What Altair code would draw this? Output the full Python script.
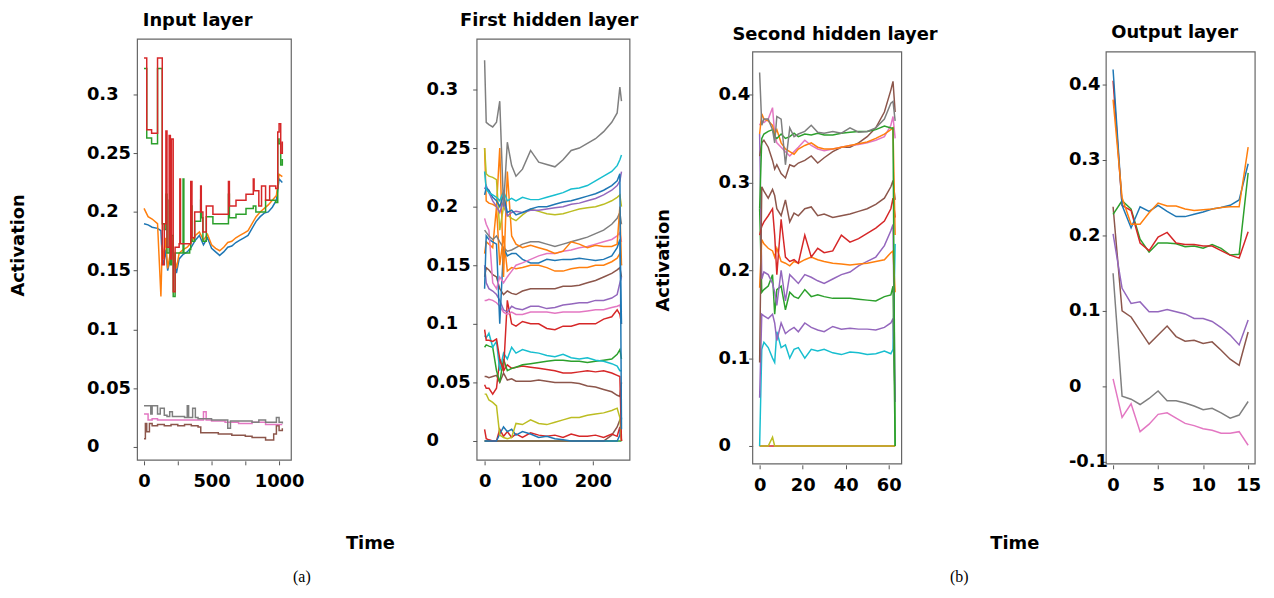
import altair as alt
import pandas as pd

FONT = "DejaVu Sans"
C = {"blue": "#1f77b4", "orange": "#ff7f0e", "green": "#2ca02c", "red": "#d62728",
     "purple": "#9467bd", "brown": "#8c564b", "pink": "#e377c2", "gray": "#7f7f7f",
     "olive": "#bcbd22", "cyan": "#17becf"}

# ---------------- Panel 1: Input layer ----------------
IN_BLUE_X = [0, 30, 60, 100, 125, 135, 145, 160, 175, 190, 205, 220, 240, 260, 290, 320, 350, 380, 410, 440,
             470, 500, 530, 560, 590, 620, 650, 680, 710, 740, 770, 800, 830, 860, 890, 920, 950, 980, 1000, 1024]
IN_BLUE_Y = [0.190, 0.189, 0.187, 0.186, 0.184, 0.160, 0.155, 0.168, 0.150, 0.158, 0.172, 0.160, 0.148, 0.160,
             0.164, 0.166, 0.170, 0.176, 0.180, 0.172, 0.178, 0.169, 0.166, 0.163, 0.166, 0.170, 0.171, 0.174,
             0.176, 0.178, 0.180, 0.186, 0.192, 0.196, 0.199, 0.200, 0.204, 0.210, 0.228, 0.225]
IN_ORANGE_Y = [0.203, 0.196, 0.194, 0.190, 0.128, 0.172, 0.160, 0.178, 0.152, 0.162, 0.176, 0.165, 0.152, 0.165,
               0.168, 0.170, 0.174, 0.180, 0.183, 0.176, 0.181, 0.172, 0.169, 0.167, 0.170, 0.174, 0.175, 0.178,
               0.180, 0.182, 0.184, 0.190, 0.196, 0.200, 0.203, 0.206, 0.210, 0.214, 0.232, 0.230]
IN_GREEN_X = [0, 20, 56, 100, 135, 150, 162, 170, 186, 195, 203, 216, 230, 260, 289, 295, 338, 346, 355, 375,
              419, 424, 436, 461, 510, 608, 625, 632, 681, 755, 809, 828, 900, 975, 990, 1000, 1012, 1024]
IN_GREEN_Y = [0.322, 0.263, 0.258, 0.322, 0.190, 0.185, 0.215, 0.165, 0.210, 0.155, 0.180, 0.128, 0.165, 0.165,
              0.228, 0.165, 0.168, 0.205, 0.175, 0.192, 0.210, 0.195, 0.175, 0.196, 0.190, 0.190, 0.215, 0.195,
              0.198, 0.203, 0.205, 0.200, 0.210, 0.208, 0.262, 0.258, 0.240, 0.245]
IN_RED_X = [0, 20, 56, 100, 135, 150, 162, 170, 186, 195, 203, 216, 230, 260, 265, 270, 338, 346, 355, 375,
            419, 424, 436, 461, 510, 608, 625, 632, 681, 755, 809, 815, 828, 850, 870, 900, 930, 975, 990, 1000,
            1012, 1024]
IN_RED_Y = [0.331, 0.270, 0.267, 0.331, 0.155, 0.190, 0.269, 0.170, 0.265, 0.160, 0.262, 0.132, 0.170, 0.173,
            0.228, 0.173, 0.173, 0.226, 0.178, 0.200, 0.222, 0.200, 0.183, 0.205, 0.198, 0.198, 0.226, 0.205,
            0.210, 0.215, 0.228, 0.218, 0.218, 0.205, 0.222, 0.210, 0.222, 0.220, 0.268, 0.275, 0.250, 0.260]
IN_BROWN_X = [0, 10, 20, 40, 60, 100, 150, 200, 250, 300, 350, 400, 420, 500, 550, 600, 650, 700, 750, 800,
              850, 900, 930, 960, 980, 1000, 1024]
IN_BROWN_Y = [0.007, 0.020, 0.013, 0.020, 0.018, 0.019, 0.018, 0.019, 0.018, 0.019, 0.018, 0.017, 0.012, 0.012,
              0.011, 0.011, 0.010, 0.010, 0.009, 0.008, 0.008, 0.006, 0.006, 0.011, 0.018, 0.014, 0.016]
IN_PINK_X = [0, 30, 60, 100, 200, 300, 400, 440, 460, 500, 600, 700, 800, 900, 1000, 1024]
IN_PINK_Y = [0.028, 0.023, 0.024, 0.023, 0.023, 0.023, 0.023, 0.030, 0.023, 0.022, 0.021, 0.020, 0.021, 0.019,
             0.019, 0.019]
IN_GRAY_X = [0, 50, 60, 100, 120, 150, 170, 190, 210, 260, 300, 320, 330, 360, 380, 400, 430, 500, 600, 620,
             640, 700, 800, 850, 900, 960, 980, 1000, 1024]
IN_GRAY_Y = [0.035, 0.028, 0.035, 0.028, 0.033, 0.027, 0.026, 0.030, 0.026, 0.026, 0.025, 0.035, 0.025, 0.033,
             0.025, 0.024, 0.024, 0.023, 0.023, 0.016, 0.022, 0.022, 0.021, 0.023, 0.021, 0.021, 0.025, 0.021,
             0.020]

# ---------------- Panel 2: First hidden layer ----------------
H1_X = [0, 3, 8, 15, 22, 28, 35, 42, 50, 58, 70, 85, 100, 115, 130, 145, 160, 175, 190, 205, 220, 235, 245, 250, 253]
H1_GRAY_TOP = [0.325, 0.272, 0.270, 0.268, 0.272, 0.290, 0.200, 0.255, 0.235, 0.226, 0.232, 0.248, 0.238, 0.236,
               0.234, 0.240, 0.248, 0.250, 0.254, 0.258, 0.264, 0.272, 0.280, 0.302, 0.290]
H1_CYAN_TOP = [0.230, 0.215, 0.212, 0.210, 0.208, 0.205, 0.213, 0.205, 0.207, 0.205, 0.208, 0.206, 0.206, 0.208,
               0.210, 0.212, 0.215, 0.216, 0.218, 0.222, 0.226, 0.230, 0.235, 0.240, 0.244]
H1_BLUE_TOP = [0.210, 0.216, 0.214, 0.208, 0.205, 0.200, 0.210, 0.195, 0.197, 0.193, 0.195, 0.198, 0.200, 0.200,
               0.202, 0.204, 0.205, 0.207, 0.209, 0.211, 0.214, 0.218, 0.222, 0.228, 0.010]
H1_PURPLE_TOP = [0.215, 0.218, 0.212, 0.205, 0.200, 0.195, 0.205, 0.192, 0.195, 0.196, 0.195, 0.197, 0.197, 0.198,
                 0.199, 0.200, 0.202, 0.203, 0.205, 0.207, 0.210, 0.214, 0.218, 0.222, 0.230]
H1_OLIVE_TOP = [0.250, 0.228, 0.226, 0.225, 0.223, 0.180, 0.200, 0.193, 0.190, 0.188, 0.193, 0.198, 0.196, 0.194,
                0.193, 0.194, 0.196, 0.198, 0.199, 0.200, 0.202, 0.205, 0.208, 0.210, 0.200]
H1_ORANGE_TOP = [0.250, 0.205, 0.203, 0.202, 0.200, 0.250, 0.140, 0.230, 0.175, 0.168, 0.165, 0.167, 0.165, 0.163,
                 0.160, 0.162, 0.170, 0.168, 0.165, 0.167, 0.166, 0.166, 0.168, 0.200, 0.150]
H1_GRAY_LOW = [0.180, 0.178, 0.175, 0.172, 0.175, 0.170, 0.165, 0.162, 0.163, 0.165, 0.168, 0.170, 0.170, 0.168,
               0.166, 0.168, 0.170, 0.172, 0.174, 0.177, 0.180, 0.185, 0.190, 0.195, 0.185]
H1_PINK_TOP = [0.190, 0.185, 0.180, 0.135, 0.130, 0.140, 0.135, 0.140, 0.145, 0.150, 0.152, 0.155, 0.158, 0.160,
               0.160, 0.162, 0.163, 0.165, 0.166, 0.168, 0.170, 0.172, 0.175, 0.178, 0.170]
H1_BLUE_MID = [0.130, 0.175, 0.172, 0.170, 0.168, 0.100, 0.165, 0.158, 0.160, 0.160, 0.155, 0.152, 0.152, 0.155,
               0.154, 0.155, 0.155, 0.156, 0.155, 0.154, 0.155, 0.158, 0.165, 0.172, 0.100]
H1_ORANGE_LOW = [0.160, 0.170, 0.168, 0.165, 0.200, 0.150, 0.175, 0.145, 0.148, 0.147, 0.148, 0.150, 0.150, 0.148,
                 0.145, 0.145, 0.147, 0.148, 0.148, 0.150, 0.150, 0.153, 0.156, 0.160, 0.150]
H1_BROWN_TOP = [0.140, 0.148, 0.146, 0.142, 0.140, 0.130, 0.125, 0.128, 0.126, 0.125, 0.128, 0.130, 0.130, 0.130,
                0.130, 0.132, 0.132, 0.133, 0.135, 0.137, 0.140, 0.143, 0.146, 0.148, 0.140]
H1_PURPLE_LOW = [0.150, 0.135, 0.130, 0.128, 0.125, 0.120, 0.112, 0.110, 0.115, 0.113, 0.112, 0.115, 0.115, 0.113,
                 0.114, 0.116, 0.117, 0.118, 0.118, 0.120, 0.120, 0.122, 0.125, 0.135, 0.140]
H1_PINK_LOW = [0.120, 0.120, 0.121, 0.120, 0.118, 0.115, 0.110, 0.108, 0.110, 0.108, 0.108, 0.110, 0.110, 0.110,
               0.109, 0.110, 0.110, 0.110, 0.111, 0.112, 0.112, 0.114, 0.115, 0.116, 0.110]
H1_RED_MID = [0.095, 0.086, 0.086, 0.085, 0.087, 0.070, 0.060, 0.120, 0.100, 0.098, 0.102, 0.100, 0.100, 0.096,
              0.095, 0.098, 0.098, 0.100, 0.100, 0.100, 0.104, 0.106, 0.112, 0.108, 0.100]
H1_CYAN_LOW = [0.090, 0.088, 0.092, 0.080, 0.085, 0.060, 0.075, 0.070, 0.080, 0.075, 0.078, 0.076, 0.075, 0.073,
               0.072, 0.074, 0.071, 0.070, 0.071, 0.069, 0.068, 0.066, 0.064, 0.060, 0.060]
H1_GREEN_MID = [0.080, 0.082, 0.081, 0.080, 0.060, 0.050, 0.070, 0.060, 0.062, 0.063, 0.065, 0.066, 0.067, 0.068,
                0.069, 0.069, 0.068, 0.068, 0.067, 0.068, 0.069, 0.070, 0.074, 0.078, 0.070]
H1_RED_LOW = [0.048, 0.045, 0.045, 0.040, 0.045, 0.070, 0.060, 0.065, 0.062, 0.063, 0.064, 0.063, 0.062, 0.061,
              0.060, 0.058, 0.058, 0.059, 0.060, 0.059, 0.060, 0.058, 0.056, 0.055, 0.000]
H1_BROWN_LOW = [0.055, 0.055, 0.054, 0.055, 0.056, 0.050, 0.058, 0.052, 0.053, 0.051, 0.051, 0.051, 0.052, 0.051,
                0.050, 0.050, 0.050, 0.049, 0.047, 0.046, 0.044, 0.042, 0.039, 0.038, 0.050]
H1_OLIVE_LOW = [0.040, 0.040, 0.035, 0.033, 0.030, 0.005, 0.003, 0.002, 0.003, 0.015, 0.014, 0.018, 0.015, 0.014,
                0.016, 0.018, 0.020, 0.020, 0.022, 0.023, 0.024, 0.026, 0.028, 0.020, 0.000]
H1_RED_BOTTOM = [0.010, 0.002, 0.001, 0.000, 0.000, 0.010, 0.004, 0.008, 0.003, 0.006, 0.003, 0.007, 0.005, 0.004,
                 0.005, 0.003, 0.006, 0.004, 0.004, 0.005, 0.003, 0.006, 0.004, 0.012, 0.000]
H1_BLUE_BOTTOM = [0.000, 0.000, 0.000, 0.000, 0.000, 0.006, 0.012, 0.008, 0.010, 0.005, 0.008, 0.006, 0.003, 0.004,
                  0.002, 0.001, 0.000, 0.000, 0.000, 0.000, 0.000, 0.000, 0.000, 0.005, 0.020]
H1_BROWN_BOTTOM = [0.000, 0.000, 0.000, 0.000, 0.000, 0.000, 0.000, 0.000, 0.000, 0.000, 0.000, 0.000, 0.000, 0.000,
                   0.000, 0.000, 0.000, 0.000, 0.000, 0.000, 0.000, 0.005, 0.012, 0.018, 0.020]
H1_GREEN_BOTTOM = [0.000, 0.000, 0.000, 0.000, 0.000, 0.000, 0.000, 0.000, 0.000, 0.000, 0.000, 0.000, 0.000, 0.000,
                   0.000, 0.000, 0.000, 0.000, 0.000, 0.000, 0.000, 0.000, 0.000, 0.000, 0.000]

# ---------------- Panel 3: Second hidden layer ----------------
H2_X = [0, 1, 2, 4, 6, 7, 8, 10, 12, 14, 16, 18, 21, 24, 27, 30, 34, 38, 42, 46, 50, 54, 58, 61, 62, 63]
H2_GRAY = [0.425, 0.365, 0.372, 0.372, 0.360, 0.345, 0.375, 0.372, 0.320, 0.362, 0.352, 0.355, 0.358, 0.365,
           0.357, 0.356, 0.358, 0.356, 0.362, 0.357, 0.358, 0.362, 0.372, 0.390, 0.392, 0.370]
H2_GREEN_TOP = [0.270, 0.350, 0.355, 0.358, 0.360, 0.352, 0.350, 0.355, 0.350, 0.352, 0.356, 0.352, 0.355, 0.354,
                0.356, 0.354, 0.354, 0.356, 0.357, 0.358, 0.358, 0.360, 0.364, 0.362, 0.362, 0.000]
H2_ORANGE_TOP = [0.355, 0.378, 0.372, 0.370, 0.365, 0.355, 0.360, 0.345, 0.338, 0.335, 0.332, 0.338, 0.342, 0.345,
                 0.340, 0.338, 0.338, 0.340, 0.342, 0.344, 0.346, 0.350, 0.355, 0.360, 0.362, 0.240]
H2_PINK = [0.365, 0.370, 0.368, 0.372, 0.385, 0.355, 0.345, 0.340, 0.335, 0.330, 0.335, 0.340, 0.348, 0.342,
           0.338, 0.336, 0.338, 0.340, 0.342, 0.343, 0.345, 0.348, 0.352, 0.365, 0.375, 0.350]
H2_BROWN_TOP = [0.330, 0.345, 0.348, 0.340, 0.325, 0.315, 0.320, 0.310, 0.305, 0.320, 0.318, 0.322, 0.325, 0.330,
                0.322, 0.328, 0.335, 0.340, 0.340, 0.345, 0.352, 0.362, 0.380, 0.405, 0.415, 0.380]
H2_BROWN_MID = [0.095, 0.295, 0.290, 0.282, 0.292, 0.285, 0.270, 0.262, 0.280, 0.255, 0.265, 0.262, 0.270, 0.272,
                0.262, 0.264, 0.260, 0.262, 0.264, 0.267, 0.270, 0.275, 0.282, 0.295, 0.302, 0.280]
H2_RED = [0.240, 0.250, 0.255, 0.262, 0.270, 0.240, 0.195, 0.258, 0.215, 0.210, 0.212, 0.208, 0.240, 0.215,
          0.225, 0.220, 0.222, 0.240, 0.232, 0.236, 0.242, 0.248, 0.256, 0.270, 0.282, 0.260]
H2_ORANGE_MID = [0.180, 0.235, 0.230, 0.225, 0.222, 0.215, 0.225, 0.210, 0.208, 0.205, 0.210, 0.208, 0.212, 0.215,
                 0.212, 0.210, 0.208, 0.207, 0.206, 0.207, 0.208, 0.210, 0.212, 0.220, 0.222, 0.175]
H2_PURPLE_MID = [0.355, 0.190, 0.198, 0.195, 0.185, 0.175, 0.160, 0.200, 0.165, 0.195, 0.190, 0.185, 0.195, 0.192,
                 0.188, 0.185, 0.190, 0.195, 0.198, 0.205, 0.210, 0.215, 0.228, 0.245, 0.252, 0.050]
H2_GREEN_MID = [0.270, 0.175, 0.178, 0.182, 0.195, 0.150, 0.178, 0.182, 0.155, 0.175, 0.170, 0.168, 0.178, 0.170,
                0.172, 0.170, 0.168, 0.168, 0.168, 0.167, 0.166, 0.165, 0.170, 0.172, 0.182, 0.000]
H2_PURPLE_LOW = [0.055, 0.150, 0.148, 0.145, 0.150, 0.140, 0.120, 0.140, 0.128, 0.132, 0.135, 0.130, 0.140, 0.135,
                 0.132, 0.130, 0.136, 0.133, 0.134, 0.133, 0.133, 0.132, 0.135, 0.140, 0.145, 0.050]
H2_CYAN = [0.000, 0.110, 0.118, 0.112, 0.100, 0.095, 0.130, 0.112, 0.115, 0.100, 0.110, 0.112, 0.100, 0.110,
           0.108, 0.110, 0.106, 0.104, 0.107, 0.106, 0.104, 0.105, 0.108, 0.105, 0.110, 0.230]
H2_OLIVE = [0.000, 0.000, 0.000, 0.000, 0.010, 0.000, 0.000, 0.000, 0.000, 0.000, 0.000, 0.000, 0.000, 0.000,
            0.000, 0.000, 0.000, 0.000, 0.000, 0.000, 0.000, 0.000, 0.000, 0.000, 0.000, 0.000]
H2_RED_BOTTOM = [0.000, 0.000, 0.000, 0.000, 0.000, 0.000, 0.000, 0.000, 0.000, 0.000, 0.000, 0.000, 0.000, 0.000,
                 0.000, 0.000, 0.000, 0.000, 0.000, 0.000, 0.000, 0.000, 0.000, 0.000, 0.000, 0.000]

# ---------------- Panel 4: Output layer ----------------
OUT_X = [0, 1, 2, 3, 4, 5, 6, 7, 8, 9, 10, 11, 12, 13, 14, 15]
OUT_BLUE = [0.420, 0.240, 0.210, 0.238, 0.232, 0.240, 0.232, 0.225, 0.225, 0.228, 0.231, 0.235, 0.237, 0.240, 0.247, 0.295]
OUT_ORANGE = [0.380, 0.250, 0.215, 0.215, 0.230, 0.243, 0.239, 0.239, 0.235, 0.233, 0.234, 0.235, 0.237, 0.238, 0.238, 0.317]
OUT_GREEN = [0.228, 0.246, 0.235, 0.195, 0.178, 0.190, 0.190, 0.189, 0.185, 0.186, 0.183, 0.188, 0.183, 0.174, 0.175, 0.283]
OUT_RED = [0.405, 0.240, 0.233, 0.190, 0.180, 0.198, 0.204, 0.190, 0.188, 0.188, 0.186, 0.186, 0.180, 0.174, 0.170, 0.205]
OUT_PURPLE = [0.202, 0.130, 0.110, 0.112, 0.099, 0.099, 0.102, 0.099, 0.096, 0.090, 0.090, 0.086, 0.078, 0.068, 0.055, 0.088]
OUT_BROWN = [0.238, 0.100, 0.092, 0.074, 0.056, 0.068, 0.080, 0.066, 0.060, 0.061, 0.057, 0.059, 0.048, 0.036, 0.028, 0.072]
OUT_GRAY = [0.150, -0.013, -0.017, -0.024, -0.016, -0.006, -0.019, -0.019, -0.022, -0.026, -0.031, -0.029, -0.035, -0.042, -0.038, -0.020]
OUT_PINK = [0.010, -0.041, -0.023, -0.060, -0.050, -0.037, -0.035, -0.042, -0.049, -0.052, -0.056, -0.058, -0.062, -0.062, -0.060, -0.078]

IN_Y_TICKS = [0, 0.05, 0.1, 0.15, 0.2, 0.25, 0.3]
H2_Y_TICKS = [0, 0.1, 0.2, 0.3, 0.4]
OUT_Y_TICKS = [-0.1, 0, 0.1, 0.2, 0.3, 0.4]


def long_df(series):
    rows = []
    for name, color, xs, ys in series:
        for j, (x, y) in enumerate(zip(xs, ys)):
            rows.append({"s": name, "c": color, "x": x, "y": y, "k": j})
    return pd.DataFrame(rows)


def yaxis(values, pad):
    return alt.Axis(values=values, labelAlign="left", labelBaseline="middle", labelPadding=pad, tickSize=4,
                    tickColor="#555", domain=False, grid=False, title=None, labelFont=FONT, labelFontSize=18,
                    labelFontWeight="bold", labelColor="black", labelOverlap=False, labelFlush=False,
                    labelExpr="datum.value < 0 ? '-' + format(-datum.value, '~g') : format(datum.value, '~g')")


def xaxis(values, expr="datum.label"):
    return alt.Axis(values=values, tickSize=4, tickColor="#555", offset=1, labelPadding=8, domain=False,
                    grid=False, title=None, labelFont=FONT, labelFontSize=18, labelFontWeight="bold",
                    labelColor="black", labelOverlap=False, labelFlush=False, format="d", labelExpr=expr)


def txt(s, x, y, angle=0, font=FONT, size=18, weight="bold", baseline="alphabetic"):
    return alt.Chart(pd.DataFrame({"t": [s]})).mark_text(
        font=font, fontSize=size, fontWeight=weight, align="center", baseline=baseline, angle=angle,
        color="black").encode(text="t:N", x=alt.value(x), y=alt.value(y))


def frame(w, y0, y1):
    return alt.Chart(pd.DataFrame({"f": [0]})).mark_rect(
        fill="white", fillOpacity=0, stroke="#666", strokeWidth=1.2).encode(
        x=alt.value(0), x2=alt.value(w), y=alt.value(y0), y2=alt.value(y1))


def lines(series, xdom, xvals, ydom, yvals, ypad, xexpr="datum.label", interp="linear"):
    df = long_df(series)
    return alt.Chart(df).mark_line(strokeWidth=1.5, interpolate=interp, clip=True).encode(
        x=alt.X("x:Q", scale=alt.Scale(domain=xdom, nice=False, zero=False), axis=xaxis(xvals, xexpr)),
        y=alt.Y("y:Q", scale=alt.Scale(domain=ydom, nice=False, zero=False), axis=yaxis(yvals, ypad)),
        color=alt.Color("c:N", scale=None, legend=None),
        detail="s:N",
        order=alt.Order("k:Q"),
    )


p1_smooth = [
    ("b", C["blue"], IN_BLUE_X, IN_BLUE_Y),
    ("o", C["orange"], IN_BLUE_X, IN_ORANGE_Y),
]
p1_steps = [
    ("g", C["green"], IN_GREEN_X, IN_GREEN_Y),
    ("r", C["red"], IN_RED_X, IN_RED_Y),
    ("br", C["brown"], IN_BROWN_X, IN_BROWN_Y),
    ("p", C["pink"], IN_PINK_X, IN_PINK_Y),
    ("gr", C["gray"], IN_GRAY_X, IN_GRAY_Y),
]
P1_XDOM = [-51.5, 1088]
P1_YDOM = [-0.011, 0.3473]
P1_XTICKS = [0, 250, 500, 750, 1000]
P1_XEXPR = "datum.value % 500 == 0 ? datum.label : ''"
p1 = alt.layer(
    lines(p1_smooth, P1_XDOM, P1_XTICKS, P1_YDOM, IN_Y_TICKS, 47, xexpr=P1_XEXPR),
    lines(p1_steps, P1_XDOM, P1_XTICKS, P1_YDOM, IN_Y_TICKS, 47, xexpr=P1_XEXPR, interp="step-after"),
    txt("Input layer", 61, -13),
    txt("Activation", -119, 208, angle=270, baseline="middle"),
    txt("Time", 235, 509, baseline="middle"),
    txt("(a)", 166, 542, font="Liberation Serif", size=16, weight="normal", baseline="middle"),
).properties(width=155, height=424, view=alt.ViewBackground(stroke="#666", strokeWidth=1.2))

p2_series = [
    ("gb", C["green"], H1_X, H1_GREEN_BOTTOM),
    ("brb", C["brown"], H1_X, H1_BROWN_BOTTOM),
    ("rb", C["red"], H1_X, H1_RED_BOTTOM),
    ("bb", C["blue"], H1_X, H1_BLUE_BOTTOM),
    ("ol", C["olive"], H1_X, H1_OLIVE_LOW),
    ("brl", C["brown"], H1_X, H1_BROWN_LOW),
    ("rl", C["red"], H1_X, H1_RED_LOW),
    ("gm", C["green"], H1_X, H1_GREEN_MID),
    ("cl", C["cyan"], H1_X, H1_CYAN_LOW),
    ("rm", C["red"], H1_X, H1_RED_MID),
    ("pl", C["pink"], H1_X, H1_PINK_LOW),
    ("pul", C["purple"], H1_X, H1_PURPLE_LOW),
    ("brt", C["brown"], H1_X, H1_BROWN_TOP),
    ("ol2", C["orange"], H1_X, H1_ORANGE_LOW),
    ("bm", C["blue"], H1_X, H1_BLUE_MID),
    ("pt", C["pink"], H1_X, H1_PINK_TOP),
    ("grl", C["gray"], H1_X, H1_GRAY_LOW),
    ("ot", C["orange"], H1_X, H1_ORANGE_TOP),
    ("olt", C["olive"], H1_X, H1_OLIVE_TOP),
    ("put", C["purple"], H1_X, H1_PURPLE_TOP),
    ("bt", C["blue"], H1_X, H1_BLUE_TOP),
    ("ct", C["cyan"], H1_X, H1_CYAN_TOP),
    ("grt", C["gray"], H1_X, H1_GRAY_TOP),
]
p2 = alt.layer(
    lines(p2_series, [-14.7, 267.9], [0, 100, 200], [-0.0161, 0.3432], IN_Y_TICKS, 47),
    txt("First hidden layer", 73, -13),
).properties(width=154, height=424, view=alt.ViewBackground(stroke="#666", strokeWidth=1.2))

p3_series = [
    ("rb", C["red"], H2_X, H2_RED_BOTTOM),
    ("ol", C["olive"], H2_X, H2_OLIVE),
    ("c", C["cyan"], H2_X, H2_CYAN),
    ("pul", C["purple"], H2_X, H2_PURPLE_LOW),
    ("gm", C["green"], H2_X, H2_GREEN_MID),
    ("pum", C["purple"], H2_X, H2_PURPLE_MID),
    ("om", C["orange"], H2_X, H2_ORANGE_MID),
    ("r", C["red"], H2_X, H2_RED),
    ("brm", C["brown"], H2_X, H2_BROWN_MID),
    ("brt", C["brown"], H2_X, H2_BROWN_TOP),
    ("p", C["pink"], H2_X, H2_PINK),
    ("ot", C["orange"], H2_X, H2_ORANGE_TOP),
    ("gt", C["green"], H2_X, H2_GREEN_TOP),
    ("gr", C["gray"], H2_X, H2_GRAY),
]
p3 = alt.layer(
    frame(150, 13, 428),
    lines(p3_series, [-3.23, 66], [0, 20, 40, 60], [-0.0203, 0.4633], H2_Y_TICKS, 31),
    txt("Second hidden layer", 83, 1),
    txt("Activation", -89, 223, angle=270, baseline="middle"),
    txt("Time", 264, 509, baseline="middle"),
    txt("(b)", 208, 542, font="Liberation Serif", size=16, weight="normal", baseline="middle"),
).properties(width=150, height=428, view=alt.ViewBackground(stroke="transparent", strokeWidth=0))

p4_series = [
    ("p", C["pink"], OUT_X, OUT_PINK),
    ("gr", C["gray"], OUT_X, OUT_GRAY),
    ("br", C["brown"], OUT_X, OUT_BROWN),
    ("pu", C["purple"], OUT_X, OUT_PURPLE),
    ("g", C["green"], OUT_X, OUT_GREEN),
    ("r", C["red"], OUT_X, OUT_RED),
    ("b", C["blue"], OUT_X, OUT_BLUE),
    ("o", C["orange"], OUT_X, OUT_ORANGE),
]
p4 = alt.layer(
    frame(150, 13, 428),
    lines(p4_series, [-0.77, 15.77], [0, 5, 10, 15], [-0.1026, 0.4605], OUT_Y_TICKS, 34),
    txt("Output layer", 69, -1),
).properties(width=150, height=428, view=alt.ViewBackground(stroke="transparent", strokeWidth=0))


def spacer(w):
    return alt.Chart(pd.DataFrame({"v": [0]})).mark_point(opacity=0).encode(
        x=alt.X("v:Q", axis=None), y=alt.Y("v:Q", axis=None)
    ).properties(width=w, height=10, view=alt.ViewBackground(stroke="transparent", strokeWidth=0))


chart = alt.hconcat(
    p1, spacer(187), p2, spacer(124), p3, spacer(206), p4, spacing=0, bounds="flush"
).properties(
    padding={"left": 1, "top": 1, "right": 5, "bottom": 5}, background="white"
).configure_view(strokeWidth=0)

chart.save("out.html", embed_options={"renderer": "svg", "actions": False})
